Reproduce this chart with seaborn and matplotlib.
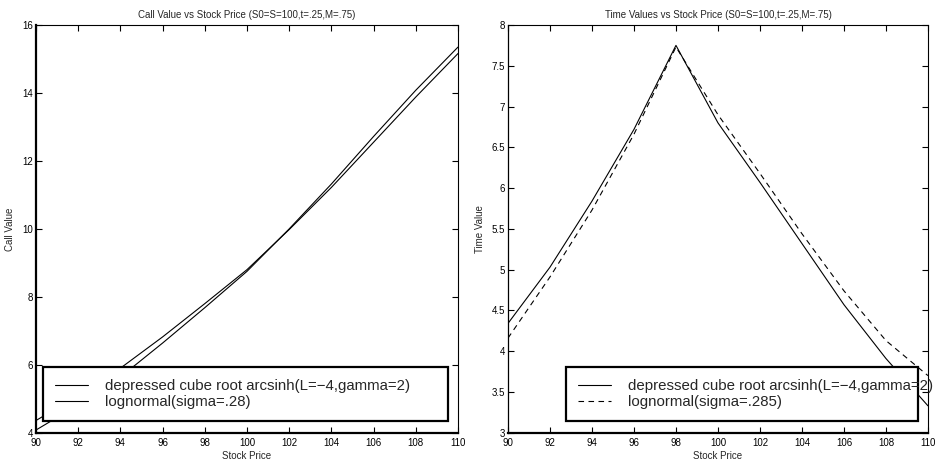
import pandas as pd
import seaborn as sns
import matplotlib.pyplot as plt

# values
stock_price = [90, 92, 94, 96, 98, 100, 102, 104, 106, 108, 110]

call_arcsinh = [4.36, 5.10, 5.90, 6.82, 7.80, 8.80, 9.98, 11.22, 12.55, 13.88, 15.16]
call_lognormal = [4.08, 4.82, 5.64, 6.64, 7.68, 8.75, 10.00, 11.32, 12.72, 14.08, 15.35]

time_arcsinh = [4.34, 5.03, 5.84, 6.72, 7.75, 6.80, 6.07, 5.32, 4.57, 3.91, 3.33]
time_lognormal = [4.16, 4.91, 5.73, 6.66, 7.73, 6.90, 6.18, 5.44, 4.74, 4.13, 3.70]

x_ticks = [90, 92, 94, 96, 98, 100, 102, 104, 106, 108, 110]
call_ticks = [4, 6, 8, 10, 12, 14, 16]
time_ticks = [3, 3.5, 4, 4.5, 5, 5.5, 6, 6.5, 7, 7.5, 8]

label_arcsinh = "depressed cube root arcsinh(L=\u22124,gamma=2)"
label_call_logn = "lognormal(sigma=.28)"
label_time_logn = "lognormal(sigma=.285)"

sns.set_style("ticks")
plt.rcParams['font.family'] = ['Liberation Sans', 'DejaVu Sans']
plt.rcParams['axes.unicode_minus'] = True

call_df = pd.DataFrame({"S": stock_price, "arcsinh": call_arcsinh, "logn": call_lognormal})
time_df = pd.DataFrame({"S": stock_price, "arcsinh": time_arcsinh, "logn": time_lognormal})

fig = plt.figure(figsize=(9.36, 4.63), dpi=100)
ax1 = fig.add_axes([0.0385, 0.0654, 0.4508, 0.8806])
ax2 = fig.add_axes([0.5427, 0.0654, 0.4487, 0.8806])

# --- left: call value ---
sns.lineplot(data=call_df, x="S", y="arcsinh", ax=ax1, color="black", lw=0.8, label=label_arcsinh)
sns.lineplot(data=call_df, x="S", y="logn", ax=ax1, color="black", lw=0.8, label=label_call_logn)
ax1.set_xlim(90, 110)
ax1.set_ylim(4, 16)
ax1.set_yticks(call_ticks)
ax1.set_yticklabels([f"{v:g}" for v in call_ticks])
ax1.set_title("Call Value vs Stock Price (S0=S=100,t=.25,M=.75)", fontsize=7, pad=5)
ax1.set_ylabel("Call Value", fontsize=7, labelpad=5)

# --- right: time value ---
sns.lineplot(data=time_df, x="S", y="arcsinh", ax=ax2, color="black", lw=0.8, label=label_arcsinh)
sns.lineplot(data=time_df, x="S", y="logn", ax=ax2, color="black", lw=0.8,
             linestyle=(0, (5, 4)), label=label_time_logn)
ax2.set_xlim(90, 110)
ax2.set_ylim(3, 8)
ax2.set_yticks(time_ticks)
ax2.set_yticklabels([f"{v:g}" for v in time_ticks])
ax2.set_title("Time Values vs Stock Price (S0=S=100,t=.25,M=.75)", fontsize=7, pad=5)
ax2.set_ylabel("Time Value", fontsize=7, labelpad=5)

legend_boxes = {ax1: (0.0166, 0.028, 0.96, 0.13), ax2: (0.138, 0.028, 0.838, 0.13)}

for ax in (ax1, ax2):
    ax.set_xticks(x_ticks)
    ax.set_xticklabels([str(v) for v in x_ticks])
    ax.set_xlabel("Stock Price", fontsize=7, labelpad=2)
    ax.tick_params(direction="in", top=True, right=True, length=4, width=0.8,
                   labelsize=7, colors="black")
    ax.tick_params(axis="x", pad=4)
    ax.tick_params(axis="y", pad=2)
    for side in ("top", "right"):
        ax.spines[side].set_linewidth(0.8)
    ax.spines["bottom"].set_linewidth(1.6)
    ax.spines["left"].set_linewidth(1.6 if ax is ax1 else 0.9)
    for sp in ax.spines.values():
        sp.set_color("black")
    leg = ax.legend(loc="lower left", bbox_to_anchor=legend_boxes[ax], mode="expand",
                    fontsize=10.8, frameon=True, fancybox=False, framealpha=1,
                    edgecolor="black", handlelength=2.2, handletextpad=1.15,
                    labelspacing=0.15, borderpad=0.8, borderaxespad=0)
    leg.get_frame().set_linewidth(1.6)

fig.savefig("out.png", dpi=100)
